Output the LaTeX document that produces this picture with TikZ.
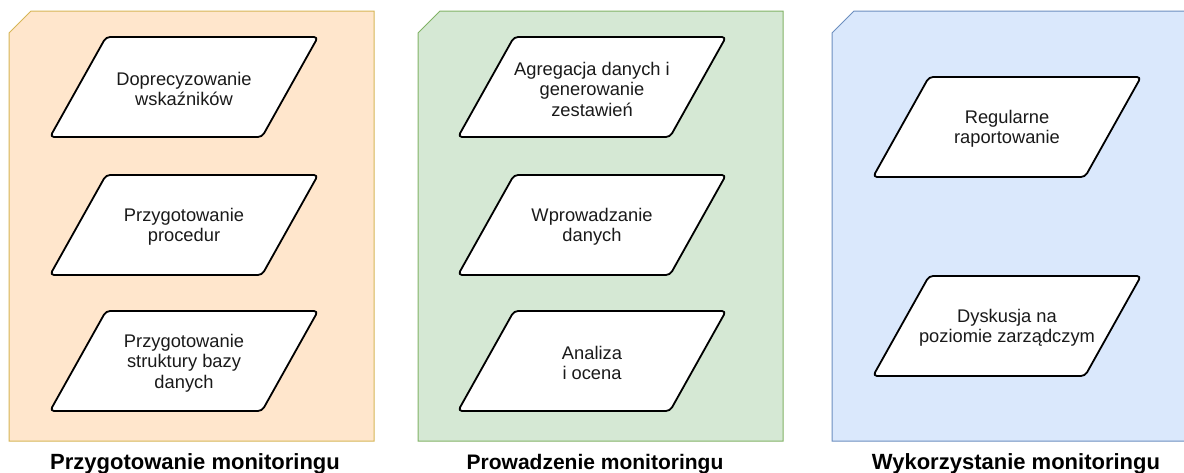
\documentclass[tikz,border=0pt]{standalone}
\usepackage{fontspec}
\setmainfont{Liberation Sans}
\definecolor{orfill}{HTML}{FFE6CC}
\definecolor{ordraw}{HTML}{D6B656}
\definecolor{grfill}{HTML}{D5E8D4}
\definecolor{grdraw}{HTML}{82B366}
\definecolor{blfill}{HTML}{DAE8FC}
\definecolor{bldraw}{HTML}{6C8EBF}
\definecolor{inktext}{HTML}{1A1A1A}
\tikzset{
  panel/.style={line width=1pt},
  iobox/.style={draw=black, fill=white, line width=1.8pt, rounded corners=4pt, line join=round},
  iotext/.style={align=center, text=inktext, inner sep=0pt, font=\fontsize{18.3}{20.5}\selectfont},
  phase/.style={anchor=base, inner sep=0pt, text=black, font=\fontsize{22}{26}\selectfont\bfseries}
}
% parallelogram (data) box: #1 name, #2 left x of bottom edge, #3 top y, #4 label
\newcommand\iobox[4]{%
  \draw[iobox] ({#2+56},{#3}) -- ({#2+268},{#3}) -- ({#2+212},{#3+100}) -- ({#2},{#3+100}) -- cycle;
  \node[iotext] (#1) at ({#2+134},{#3+52}) {#4};
}
% phase panel with a clipped top-left corner: #1 left, #2 right, #3 fill, #4 stroke
\newcommand\phasepanel[4]{%
  \draw[panel, fill=#3, draw=#4] ({#1+22},11) -- ({#2},11) -- ({#2},441) -- ({#1},441) -- ({#1},33) -- cycle;
}
\begin{document}
\begin{tikzpicture}[x=1pt, y=-1pt]
  \useasboundingbox (0,0) rectangle (1184,472);
  \clip (0,0) rectangle (1184,472);

  % panels
  \phasepanel{9}{374}{orfill}{ordraw}
  \phasepanel{418}{783}{grfill}{grdraw}
  \phasepanel{832}{1197}{blfill}{bldraw}

  % preparation
  \iobox{dopr}{50}{37}{Doprecyzowanie\\wskaźników}
  \iobox{proc}{50}{175}{Przygotowanie\\procedur}
  \iobox{baza}{50}{311}{Przygotowanie\\struktury bazy\\danych}

  % running
  \iobox{agr}{458}{37}{Agregacja danych i\\generowanie\\zestawień}
  \iobox{wpr}{458}{175}{Wprowadzanie\\danych}
  \iobox{anal}{458}{311}{Analiza\\i ocena}

  % use
  \iobox{rap}{873}{77}{Regularne\\raportowanie}
  \iobox{dysk}{873}{276}{Dyskusja na\\poziomie zarządczym}

  % phase titles
  \node[phase] (t1) at (195,469) {Przygotowanie monitoringu};
  \node[phase, font=\fontsize{21}{26}\selectfont\bfseries] (t2) at (595,469) {Prowadzenie monitoringu};
  \node[phase] (t3) at (1016,469) {Wykorzystanie monitoringu};
\end{tikzpicture}
\end{document}
